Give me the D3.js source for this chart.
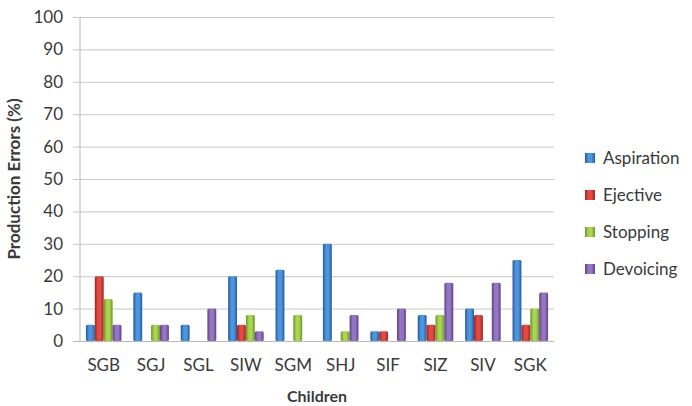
<!DOCTYPE html>
<html>
<head>
<meta charset="utf-8">
<script src="https://cdn.jsdelivr.net/npm/d3@7"></script>
<style>
  body { margin: 0; background: #fff; }
  text { font-family: Lato, "Open Sans", sans-serif; fill: #3a3a3a; }
</style>
</head>
<body>
<div id="chart"></div>
<script>
// data
const children = ["SGB", "SGJ", "SGL", "SIW", "SGM", "SHJ", "SIF", "SIZ", "SIV", "SGK"];
const seriesNames = ["Aspiration", "Ejective", "Stopping", "Devoicing"];
const aspiration = [5, 15, 5, 20, 22, 30, 3, 8, 10, 25];
const ejective   = [20, 0, 0, 5, 0, 0, 3, 5, 8, 5];
const stopping   = [13, 5, 0, 8, 8, 3, 0, 8, 0, 10];
const devoicing  = [5, 5, 10, 3, 0, 8, 10, 18, 18, 15];
const yTicks = [0, 10, 20, 30, 40, 50, 60, 70, 80, 90, 100];

const seriesValues = [aspiration, ejective, stopping, devoicing];
const colors = [
  { mid: "#4f95dc", dark: "#215a9e" },
  { mid: "#e34a44", dark: "#9c2420" },
  { mid: "#aad452", dark: "#6a9428" },
  { mid: "#9676c2", dark: "#5c4287" }
];

const width = 692, height = 406;
const margin = { top: 17, right: 138, bottom: 65, left: 80 };
const innerW = width - margin.left - margin.right;
const innerH = height - margin.top - margin.bottom;

const svg = d3.select("#chart").append("svg")
  .attr("width", width)
  .attr("height", height);

// cylinder-like gradients
const defs = svg.append("defs");
colors.forEach((c, i) => {
  const g = defs.append("linearGradient")
    .attr("id", "grad" + i)
    .attr("x1", "0%").attr("x2", "100%").attr("y1", "0%").attr("y2", "0%");
  g.append("stop").attr("offset", "0%").attr("stop-color", c.dark);
  g.append("stop").attr("offset", "35%").attr("stop-color", c.mid);
  g.append("stop").attr("offset", "65%").attr("stop-color", c.mid);
  g.append("stop").attr("offset", "100%").attr("stop-color", c.dark);
});

const g = svg.append("g")
  .attr("transform", `translate(${margin.left},${margin.top})`);

const x = d3.scaleBand()
  .domain(children)
  .range([0, innerW])
  .paddingInner(0.25)
  .paddingOuter(0.125);

const xSub = d3.scaleBand()
  .domain(seriesNames)
  .range([0, x.bandwidth()]);

const y = d3.scaleLinear()
  .domain([0, 100])
  .range([innerH, 0]);

// gridlines + y axis
const yAxis = g.append("g")
  .call(d3.axisLeft(y).tickValues(yTicks).tickSize(-(innerW + 7)).tickPadding(10));
yAxis.select(".domain").remove();
yAxis.selectAll(".tick line")
  .attr("x1", -7)
  .attr("x2", innerW)
  .attr("stroke", "#c8c8c8");
yAxis.selectAll(".tick text")
  .attr("x", -17)
  .style("font-size", "17px")
  .style("font-family", "Lato, 'Open Sans', sans-serif")
  .attr("fill", "#3a3a3a");

// vertical axis line
g.append("line")
  .attr("x1", 0).attr("x2", 0)
  .attr("y1", 0).attr("y2", innerH)
  .attr("stroke", "#b8b8b8");

// bars
const groups = g.selectAll(".grp")
  .data(children)
  .join("g")
  .attr("class", "grp")
  .attr("transform", d => `translate(${x(d)},0)`);

groups.selectAll("rect")
  .data((d, ci) => seriesNames.map((s, si) => ({ s, si, v: seriesValues[si][ci] })))
  .join("rect")
  .filter(d => d.v > 0)
  .attr("x", d => xSub(d.s))
  .attr("width", xSub.bandwidth())
  .attr("y", d => y(d.v))
  .attr("height", d => innerH - y(d.v))
  .attr("rx", 1.5)
  .attr("fill", d => `url(#grad${d.si})`);

// x axis
const xAxis = g.append("g")
  .attr("transform", `translate(0,${innerH})`)
  .call(d3.axisBottom(x).tickSize(0).tickPadding(18));
xAxis.select(".domain")
  .attr("d", `M-7,0.5H${innerW}`)
  .attr("stroke", "#b8b8b8");
xAxis.selectAll(".tick text")
  .style("font-size", "17px")
  .style("font-family", "Lato, 'Open Sans', sans-serif")
  .attr("fill", "#3a3a3a");

// axis titles
svg.append("text")
  .attr("x", margin.left + innerW / 2)
  .attr("y", 402)
  .attr("text-anchor", "middle")
  .style("font-size", "16px")
  .style("font-weight", "bold")
  .text("Children");

svg.append("text")
  .attr("transform", `translate(20,${margin.top + innerH / 2}) rotate(-90)`)
  .attr("text-anchor", "middle")
  .style("font-size", "17px")
  .style("font-weight", "bold")
  .text("Production Errors (%)");

// legend
const legend = svg.append("g")
  .attr("transform", "translate(585,158)");
seriesNames.forEach((s, i) => {
  const row = legend.append("g").attr("transform", `translate(0,${i * 37})`);
  row.append("rect")
    .attr("x", 0).attr("y", -5)
    .attr("width", 10).attr("height", 10)
    .attr("fill", `url(#grad${i})`);
  row.append("text")
    .attr("x", 18).attr("y", 0)
    .attr("dy", "0.35em")
    .style("font-size", "17px")
    .text(s);
});
</script>
</body>
</html>
